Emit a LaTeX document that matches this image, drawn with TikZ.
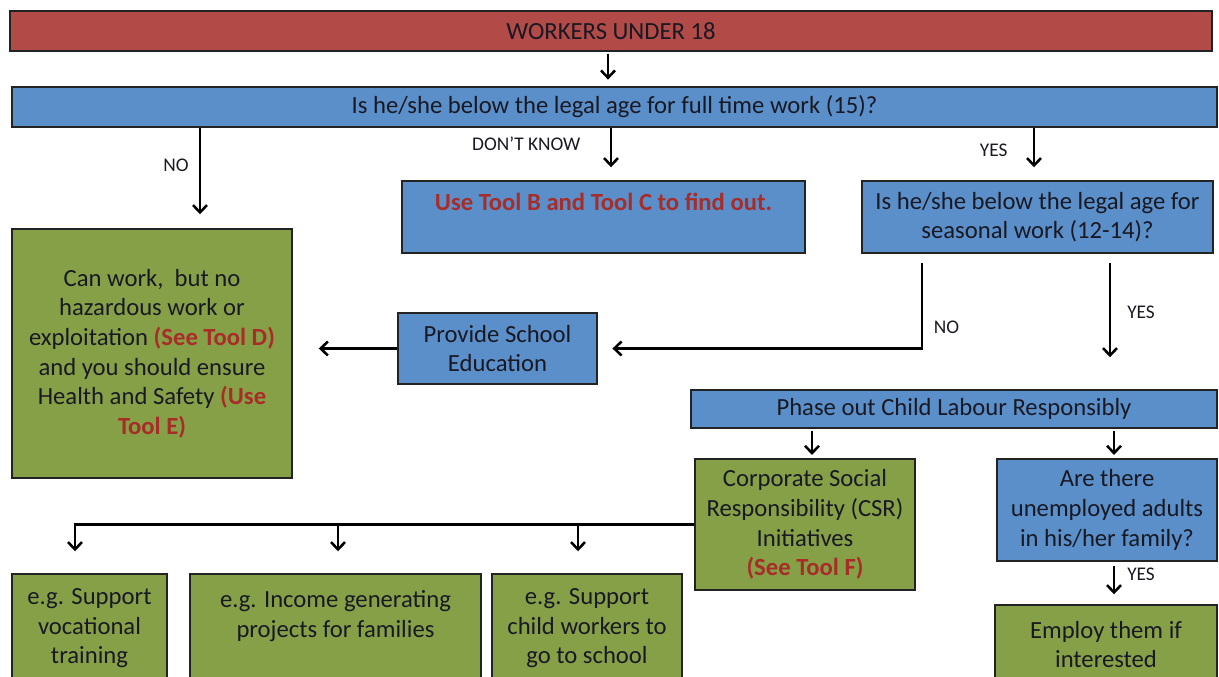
\documentclass[tikz,border=0pt]{standalone}
\usepackage{fontspec}
\setmainfont{Carlito}
\usetikzlibrary{arrows.meta, positioning}

\definecolor{barred}{RGB}{178,74,72}
\definecolor{qblue}{RGB}{90,143,202}
\definecolor{agreen}{RGB}{134,160,72}
\definecolor{edge}{RGB}{35,35,35}
\definecolor{ink}{RGB}{25,25,35}
\definecolor{toolred}{RGB}{168,45,40}

\newcommand{\tool}[1]{{\color{toolred}\bfseries #1}}

\begin{document}
\begin{tikzpicture} [x=0.75pt, y=-0.75pt,
  boxsize/.style 2 args = {minimum width=#1*0.75pt, minimum height=#2*0.75pt},
  box/.style = {draw=edge, line width=1.1pt, inner sep=0pt, align=center, text=ink,
    font=\fontsize{18.5}{22.2}\selectfont},
  bluebox/.style = {box, fill=qblue},
  greenbox/.style = {box, fill=agreen},
  lbl/.style = {font=\fontsize{14.5}{16}\selectfont, text=ink, inner sep=0pt},
  arr/.style = {-{Straight Barb[length=5.5pt, width=10.5pt]}, line width=1.9pt, draw=black}]

\useasboundingbox (0,0) rectangle (1219,677);
\clip (0,0) rectangle (1219,677);

\node (workers) [box, fill=barred, boxsize={1202}{40}] at (611,31) {WORKERS UNDER 18};
\node (fulltime) [bluebox, boxsize={1205}{40}] at (614.5,107) {Is he/she below the legal age for full time work (15)?};
\node (findout) [bluebox, boxsize={403}{72}] at (603.5,217) {\tool{Use Tool B and Tool C to find out.}\\ \mbox{}};
\node (seasonal) [bluebox, boxsize={351}{72}] at (1037.5,217) {Is he/she below the legal age for\\ seasonal work (12-14)?};
\node (canwork) [greenbox, boxsize={280}{249}] at (152,353.5) {Can work,\ \ but no\\ hazardous work or\\ exploitation \tool{(See Tool D)}\\ and you should ensure\\ Health and Safety \tool{(Use}\\ \tool{Tool E)}};
\node (school) [bluebox, boxsize={199}{71}] at (497.5,348.5) {Provide School\\ Education};
\node (phaseout) [bluebox, boxsize={526}{38}] at (954,409) {Phase out Child Labour Responsibly};
\node (csr) [greenbox, boxsize={220}{131}] at (805,524.5) {Corporate Social\\ Responsibility (CSR)\\ Initiatives\\ \tool{(See Tool F)}};
\node (adults) [bluebox, boxsize={220}{102}] at (1107,510) {Are there\\ unemployed adults\\ in his/her family?};
\node (employ) [greenbox, boxsize={222}{79}] at (1106,644.5) {Employ them if\\ interested};
\node (vocational) [greenbox, boxsize={155}{109}] at (89.5,628.5) {e.g. Support\\ vocational\\ training};
\node (income) [greenbox, boxsize={291}{109}] at (335.5,628.5) {e.g. Income generating\\ projects for families\\ \mbox{}};
\node (schooling) [greenbox, boxsize={190}{109}] at (587,628.5) {e.g. Support\\ child workers to\\ go to school};

% first question
\draw [arr, shorten <=1.5pt, shorten >=5pt] (workers.south -| 608,0) -- (fulltime.north -| 608,0);
\draw [arr, shorten >=10.5pt] (fulltime.south -| 200,0) -- (canwork.north -| 200,0)
  node [lbl, pos=0.37, left=7.5pt] {NO};
\draw [arr, shorten >=9.75pt] (fulltime.south -| 611,0) -- (findout.north -| 611,0)
  node [lbl, pos=0.3, left=22pt] {DON'T KNOW};
\draw [arr, shorten >=9.75pt] (fulltime.south -| 1034,0) -- (seasonal.north -| 1034,0)
  node [lbl, pos=0.43, left=19pt] {YES};

% seasonal work
\draw [arr, shorten <=7pt, shorten >=11pt] (seasonal.south -| 922,0) |- (school.east)
  node [lbl, pos=0.39, right=8pt] {NO};
\draw [arr, shorten >=19.5pt] (school.west) -- (school.west -| canwork.east);
\draw [arr, shorten <=7pt, shorten >=24pt] (seasonal.south -| 1110,0) -- (phaseout.north -| 1110,0)
  node [lbl, pos=0.43, right=12pt] {YES};

% phase out
\draw [arr, shorten <=1.5pt, shorten >=2.5pt] (phaseout.south -| 812,0) -- (csr.north -| 812,0);
\draw [arr, shorten <=1.5pt, shorten >=2.5pt] (phaseout.south -| 1114,0) -- (adults.north -| 1114,0);
\draw [arr, shorten <=3pt, shorten >=7.5pt] (adults.south -| 1114,0) -- (employ.north -| 1114,0)
  node [lbl, pos=0.3, right=9pt] {YES};

% CSR examples
\draw [arr, shorten >=16.5pt] (csr.west) -| (vocational.north -| 75,0);
\foreach \x/\b in {338/income, 578/schooling}
  \draw [arr, shorten >=16.5pt] (csr.west -| \x,0) -- (\b.north -| \x,0);
\end{tikzpicture}
\end{document}
